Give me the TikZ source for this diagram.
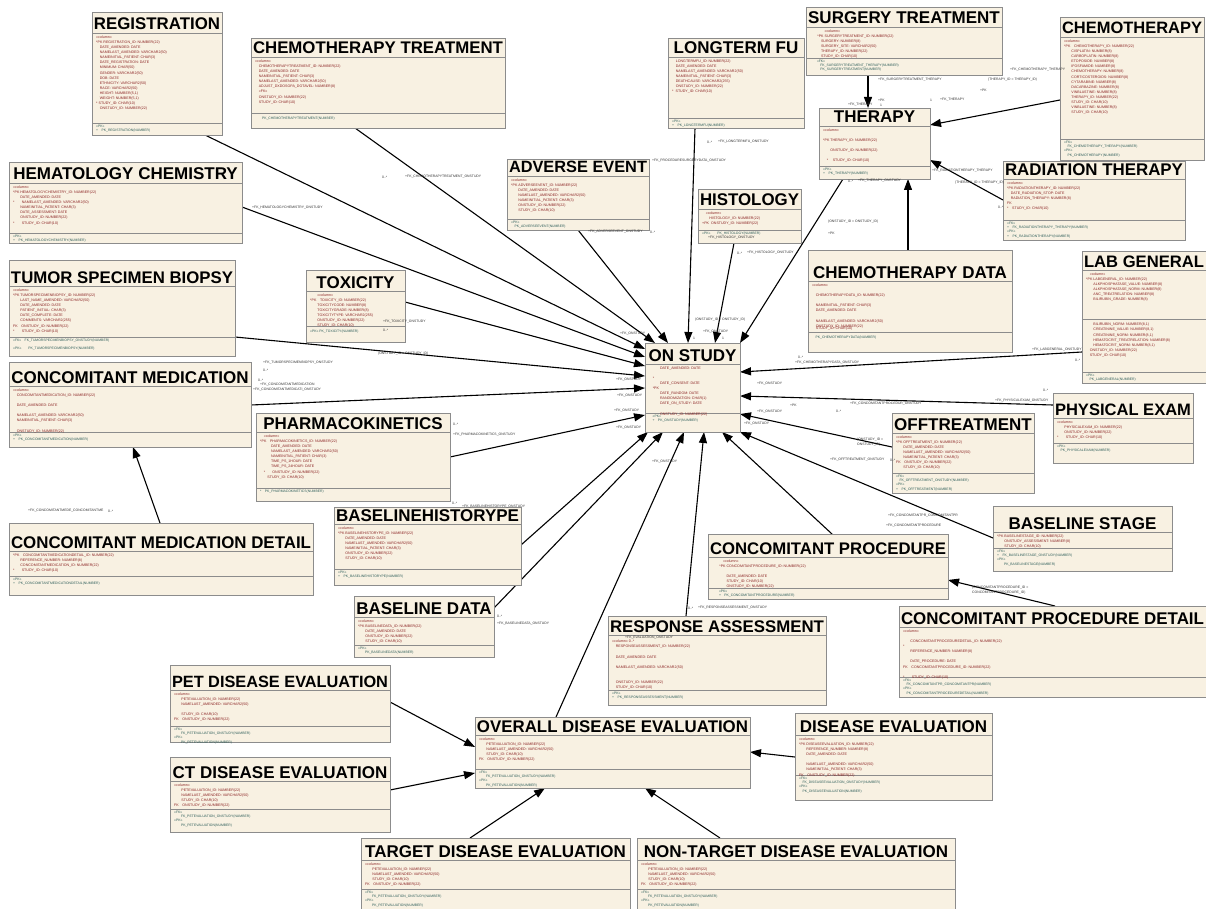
\documentclass[tikz,border=0pt]{standalone}
\usepackage{fontspec}
\setmainfont{Liberation Sans}
\usepackage{graphicx}
\usetikzlibrary{arrows.meta,calc}
\definecolor{boxfill}{HTML}{F8F1E2}
\definecolor{boxline}{HTML}{8C8C8C}
\definecolor{coltext}{HTML}{8B2323}
\definecolor{keytext}{HTML}{2E5E5A}
\definecolor{lbltext}{HTML}{333333}
\pgfdeclarelayer{background}
\pgfsetlayers{background,main}
\tikzset{
  ebox/.style={draw=boxline, fill=boxfill, line width=0.9pt, inner sep=0pt, outer sep=0pt},
  esep/.style={draw=boxline, line width=0.7pt},
  etitle/.style={inner sep=0pt, font=\fontsize{17}{17}\selectfont\bfseries, text=black},
  ecol/.style={inner sep=0pt, align=left, text=coltext, font=\fontsize{3.6}{5.1}\selectfont},
  ekey/.style={inner sep=0pt, align=left, text=keytext, font=\fontsize{3.4}{4.4}\selectfont},
  lbl/.style={inner sep=0pt, anchor=west, text=lbltext, font=\fontsize{3.4}{4}\selectfont},
  conn/.style={draw=black, line width=1.1pt, -{Triangle[length=11pt,width=8pt]}},
}
\newsavebox\ttlbox
\newcommand{\fittitle}[2]{\pgfmathsetlengthmacro\tmpw{(#1)*1pt}\sbox\ttlbox{#2}\ifdim\wd\ttlbox>\tmpw\resizebox{\tmpw}{!}{\usebox\ttlbox}\else\usebox\ttlbox\fi}
% name, x1, y1, x2, y2, title-separator y, lower separator y, title
\newcommand{\entity}[8]{%
  \node[ebox, minimum width={(#4-#2)*1pt}, minimum height={(#5-#3)*1pt}, anchor=north west] (#1) at (#2,#3) {};
  \coordinate (#1-s) at (#2,#6);
  \coordinate (#1-l) at (#2,#7);
  \draw[esep] (#2,#6) -- (#4,#6);
  \draw[esep] (#2,#7) -- (#4,#7);
  \node[etitle, anchor=base] (#1-t) at ({(#2+#4)/2},{#6-3}) {\fittitle{#4-#2-4}{#8}};
}
\newcommand{\cols}[2]{\node[ecol, anchor=north west] (#1-c) at ([shift={(4,2.5)}]#1-s) {#2};}
\newcommand{\keys}[2]{\node[ekey, anchor=north west] (#1-k) at ([shift={(4,1.5)}]#1-l) {#2};}
\begin{document}
\catcode`\_=12
\begin{tikzpicture}[x=1pt,y=-1pt]
\useasboundingbox (0,0) rectangle (1206,909);

% ---------------- entities ----------------
\entity{reg}{92}{12}{222}{135}{33}{123}{REGISTRATION}
\cols{reg}{«column»\\*PK REGISTRATION_ID: NUMBER(22)\\\quad DATE_AMENDED: DATE\\\quad NAMELAST_AMENDED: VARCHAR2(50)\\\quad NAMEINITIAL_PATIENT: CHAR(3)\\\quad DATE_REGISTRATION: DATE\\\quad MINIMUM: CHAR(50)\\\quad GENDER: VARCHAR2(50)\\\quad DOB: DATE\\\quad ETHNICITY: VARCHAR2(50)\\\quad RACE: VARCHAR2(50)\\\quad HEIGHT: NUMBER(5,1)\\\quad WEIGHT: NUMBER(5,1)\\* STUDY_ID: CHAR(10)\\\quad ONSTUDY_ID: NUMBER(22)}
\keys{reg}{«PK»\\+\quad PK_REGISTRATION(NUMBER)}

\entity{ctx}{251}{38}{505}{128}{57}{113}{CHEMOTHERAPY TREATMENT}
\cols{ctx}{«column»\\\quad CHEMOTHERAPYTREATMENT_ID: NUMBER(22)\\\quad DATE_AMENDED: DATE\\\quad NAMEINITIAL_PATIENT: CHAR(3)\\\quad NAMELAST_AMENDED: VARCHAR2(50)\\\quad ADJUST_DXDOSOPA_DOTAVEL: NUMBER(8)\\\quad «FK»\\\quad ONSTUDY_ID: NUMBER(22)\\\quad STUDY_ID: CHAR(10)}
\keys{ctx}{\\\qquad PK_CHEMOTHERAPYTREATMENT(NUMBER)}

\entity{ltfu}{668}{38}{804}{128}{57}{118}{LONGTERM FU}
\cols{ltfu}{\quad LONGTERMFU_ID: NUMBER(22)\\\quad DATE_AMENDED: DATE\\\quad NAMELAST_AMENDED: VARCHAR2(50)\\\quad NAMEINITIAL_PATIENT: CHAR(3)\\\quad DEATHCAUSE: VARCHAR2(255)\\\quad ONSTUDY_ID: NUMBER(22)\\* \ STUDY_ID: CHAR(10)}
\keys{ltfu}{«PK»\\+\quad PK_LONGTERMFU(NUMBER)}

\entity{surg}{806}{7}{1002}{75}{27}{58}{SURGERY TREATMENT}
\cols{surg}{\qquad\qquad «column»\\\qquad *PK SURGERYTREATMENT_ID: NUMBER(22)\\\qquad\quad SURGERY: NUMBER(8)\\\qquad\quad SURGERY_SITE: VARCHAR2(50)\\\qquad\quad THERAPY_ID: NUMBER(22)\\\qquad\quad STUDY_ID: CHAR(10)}
\keys{surg}{\qquad «FK»\\\qquad\quad FK_SURGERYTREATMENT_THERAPY(NUMBER)\\\qquad\quad PK_SURGERYTREATMENT(NUMBER)}

\entity{chemo}{1060}{17}{1204}{160}{37}{139}{CHEMOTHERAPY}
\cols{chemo}{«column»\\*PK\quad CHEMOTHERAPY_ID: NUMBER(22)\\\qquad CISPLATIN: NUMBER(8)\\\qquad CARBOPLATIN: NUMBER(8)\\\qquad ETOPOSIDE: NUMBER(8)\\\qquad IFOSFAMIDE: NUMBER(8)\\\qquad CHEMOTHERAPY: NUMBER(8)\\\qquad CORTICOSTEROIDS: NUMBER(8)\\\qquad CYTARABINE: NUMBER(8)\\\qquad DACARBAZINE: NUMBER(8)\\\qquad VINBLASTINE: NUMBER(8)\\\qquad THERAPY_ID: NUMBER(22)\\\qquad STUDY_ID: CHAR(10)\\\qquad VINBLASTINE: NUMBER(8)\\\qquad STUDY_ID: CHAR(10)}
\keys{chemo}{«FK»\\\quad FK_CHEMOTHERAPY_THERAPY(NUMBER)\\«PK»\\\quad PK_CHEMOTHERAPY(NUMBER)}

\entity{ther}{819}{108}{930}{179}{126}{166}{THERAPY}
\cols{ther}{«column»\\\\*PK\ THERAPY_ID: NUMBER(22)\\\\\qquad ONSTUDY_ID: NUMBER(22)\\\\\quad * \quad STUDY_ID: CHAR(10)}
\keys{ther}{«PK»\\+\quad PK_THERAPY(NUMBER)}

\entity{rad}{1003}{161}{1185}{240}{179}{220}{RADIATION THERAPY}
\cols{rad}{«column»\\*PK RADIATIONTHERAPY_ID: NUMBER(22)\\\quad DATE_RADIATION_STOP: DATE\\\quad RADIATION_THERAPY: NUMBER(8)\\FK\\*\quad STUDY_ID: CHAR(10)}
\keys{rad}{«FK»\\+\quad FK_RADIATIONTHERAPY_THERAPY(NUMBER)\\«PK»\\+\quad PK_RADIATIONTHERAPY(NUMBER)}

\entity{hem}{9}{162}{242}{243}{183}{233}{HEMATOLOGY CHEMISTRY}
\cols{hem}{«column»\\*PK HEMATOLOGYCHEMISTRY_ID: NUMBER(22)\\\qquad DATE_AMENDED: DATE\\*\qquad NAMELAST_AMENDED: VARCHAR2(50)\\\qquad NAMEINITIAL_PATIENT: CHAR(3)\\\qquad DATE_ASSESSMENT: DATE\\\qquad ONSTUDY_ID: NUMBER(22)\\*\qquad STUDY_ID: CHAR(10)}
\keys{hem}{«PK»\\+\quad PK_HEMATOLOGYCHEMISTRY(NUMBER)}

\entity{adv}{507}{159}{649}{230}{176}{219}{ADVERSE EVENT}
\cols{adv}{«column»\\*PK ADVERSEEVENT_ID: NUMBER(22)\\\qquad DATE_AMENDED: DATE\\\qquad NAMELAST_AMENDED: VARCHAR2(50)\\\qquad NAMEINITIAL_PATIENT: CHAR(3)\\\qquad ONSTUDY_ID: NUMBER(22)\\\qquad STUDY_ID: CHAR(10)}
\keys{adv}{«PK»\\\quad PK_ADVERSEEVENT(NUMBER)}

\entity{hist}{698}{189}{801}{243}{209}{230}{HISTOLOGY}
\cols{hist}{\quad «column»\\\qquad HISTOLOGY_ID: NUMBER(22)\\+PK\ \ ONSTUDY_ID: NUMBER(22)}
\keys{hist}{«PK»\qquad PK_HISTOLOGY(NUMBER)}

\entity{cdata}{808}{250}{1012}{352}{281}{332}{CHEMOTHERAPY DATA}
\cols{cdata}{«column»\\\\\quad CHEMOTHERAPYDATA_ID: NUMBER(22)\\\\\quad NAMEINITIAL_PATIENT: CHAR(3)\\\quad DATE_AMENDED: DATE\\\\\quad NAMELAST_AMENDED: VARCHAR2(50)\\\quad ONSTUDY_ID: NUMBER(22)}
\node[ecol, anchor=north west] (cdata-c2) at (812,326.5) {\quad STUDY_ID: CHAR(10)};
\keys{cdata}{\\\quad PK_CHEMOTHERAPYDATA(NUMBER)}

\entity{lab}{1082}{251}{1206}{383}{270}{372}{LAB GENERAL}
\draw[esep] (lab.west |- 0,319) -- (lab.east |- 0,319);
\cols{lab}{\quad «column»\\*PK LABGENERAL_ID: NUMBER(22)\\\qquad ALKPHOSPHATASE_VALUE: NUMBER(8)\\\qquad ALKPHOSPHATASE_NORM: NUMBER(8)\\\qquad ANC_TREATRELATION: NUMBER(8)\\\qquad BILIRUBIN_GRADE: NUMBER(8)}
\node[ecol, anchor=north west] (lab-c2) at (1086,323) {\qquad BILIRUBIN_NORM: NUMBER(8,1)\\\qquad CREATININE_VALUE: NUMBER(8,1)\\\qquad CREATININE_NORM: NUMBER(8,1)\\\qquad HEMATOCRIT_TREATRELATION: NUMBER(8)\\\qquad HEMATOCRIT_NORM: NUMBER(8,1)\\\quad ONSTUDY_ID: NUMBER(22)\\\quad STUDY_ID: CHAR(10)};
\keys{lab}{«PK»\\\quad PK_LABGENERAL(NUMBER)}

\entity{tsb}{9}{260}{235}{356}{286}{337}{TUMOR SPECIMEN BIOPSY}
\cols{tsb}{«column»\\*PK TUMORSPECIMENBIOPSY_ID: NUMBER(22)\\\qquad LAST_NAME_AMENDED: VARCHAR2(50)\\\qquad DATE_AMENDED: DATE\\\qquad PATIENT_INITIAL: CHAR(3)\\\qquad DATE_COMPLETE: DATE\\\qquad COMMENTS: VARCHAR2(255)\\FK\quad ONSTUDY_ID: NUMBER(22)\\*\qquad STUDY_ID: CHAR(10)}
\keys{tsb}{«FK»\quad FK_TUMORSPECIMENBIOPSY_ONSTUDY(NUMBER)\\\\«PK»\qquad PK_TUMORSPECIMENBIOPSY(NUMBER)}

\entity{tox}{306}{270}{405}{342}{291}{326}{TOXICITY}
\cols{tox}{\qquad «column»\\*PK\quad TOXICITY_ID: NUMBER(22)\\\qquad TOXICITYCODE: NUMBER(8)\\\qquad TOXICITYGRADE: NUMBER(8)\\\qquad TOXICITYTYPE: VARCHAR2(255)\\\qquad ONSTUDY_ID: NUMBER(22)\\\qquad STUDY_ID: CHAR(10)}
\keys{tox}{\\«PK» PK_TOXICITY(NUMBER)}

\entity{os}{645}{343}{740}{432}{364}{413}{ON STUDY}
\cols{os}{\qquad\quad DATE_AMENDED: DATE\\\\\quad *\\\qquad\quad DATE_CONSENT: DATE\\\quad *PK\\\qquad\quad DATE_RANDOM: DATE\\\qquad\quad RANDOMIZATION: CHAR(1)\\\qquad\quad DATE_ON_STUDY: DATE\\\\\qquad\quad ONSTUDY_ID: NUMBER(22)}
\keys{os}{\quad «PK»\\\quad +\quad PK_ONSTUDY(NUMBER)}

\entity{conmed}{9}{362}{251}{447}{386}{432}{CONCOMITANT MEDICATION}
\cols{conmed}{«column»\\\quad CONCOMITANTMEDICATION_ID: NUMBER(22)\\\\\quad DATE_AMENDED: DATE\\\\\quad NAMELAST_AMENDED: VARCHAR2(50)\\\quad NAMEINITIAL_PATIENT: CHAR(3)\\\\\quad ONSTUDY_ID: NUMBER(22)}
\keys{conmed}{«PK»\\+\quad PK_CONCOMITANTMEDICATION(NUMBER)}

\entity{pk}{256}{413}{450}{501}{432}{488}{PHARMACOKINETICS}
\cols{pk}{\quad «column»\\*PK\quad PHARMACOKINETICS_ID: NUMBER(22)\\\qquad\quad DATE_AMENDED: DATE\\\qquad\quad NAMELAST_AMENDED: VARCHAR2(50)\\\qquad\quad NAMEINITIAL_PATIENT: CHAR(3)\\\qquad\quad TIME_PS_1HOUR: DATE\\\qquad\quad TIME_PS_24HOUR: DATE\\\quad *\qquad ONSTUDY_ID: NUMBER(22)\\\qquad STUDY_ID: CHAR(10)}
\keys{pk}{*\quad PK_PHARMACOKINETICS(NUMBER)}

\entity{off}{892}{413}{1034}{493}{433}{473}{OFFTREATMENT}
\cols{off}{«column»\\*PK OFFTREATMENT_ID: NUMBER(22)\\\qquad DATE_AMENDED: DATE\\\qquad NAMELAST_AMENDED: VARCHAR2(50)\\\qquad NAMEINITIAL_PATIENT: CHAR(3)\\FK\quad ONSTUDY_ID: NUMBER(22)\\\qquad STUDY_ID: CHAR(10)}
\keys{off}{«FK»\\\quad FK_OFFTREATMENT_ONSTUDY(NUMBER)\\«PK»\\+\quad PK_OFFTREATMENT(NUMBER)}

\entity{phys}{1053}{393}{1193}{463}{418}{443}{PHYSICAL EXAM}
\cols{phys}{«column»\\\qquad PHYSICALEXAM_ID: NUMBER(22)\\\qquad ONSTUDY_ID: NUMBER(22)\\*\qquad STUDY_ID: CHAR(10)}
\keys{phys}{«PK»\\\quad PK_PHYSICALEXAM(NUMBER)}

\entity{cmd}{9}{523}{313}{595}{551}{576}{CONCOMITANT MEDICATION DETAIL}
\cols{cmd}{*PK\quad CONCOMITANTMEDICATIONDETAIL_ID: NUMBER(22)\\\qquad REFERENCE_NUMBER: NUMBER(8)\\\qquad CONCOMITANTMEDICATION_ID: NUMBER(22)\\*\qquad STUDY_ID: CHAR(10)}
\keys{cmd}{«PK»\\+\quad PK_CONCOMITANTMEDICATIONDETAIL(NUMBER)}

\entity{bhist}{334}{507}{521}{585}{524}{569}{BASELINEHISTORYPE}
\cols{bhist}{«column»\\*PK BASELINEHISTORYPE_ID: NUMBER(22)\\\qquad DATE_AMENDED: DATE\\\qquad NAMELAST_AMENDED: VARCHAR2(50)\\\qquad NAMEINITIAL_PATIENT: CHAR(3)\\\qquad ONSTUDY_ID: NUMBER(22)\\\qquad STUDY_ID: CHAR(10)}
\keys{bhist}{«PK»\\+\quad PK_BASELINEHISTORYPE(NUMBER)}

\entity{bstage}{993}{506}{1172}{571}{532}{548}{BASELINE STAGE}
\cols{bstage}{*PK BASELINESTAGE_ID: NUMBER(22)\\\qquad ONSTUDY_ASSESSMENT: NUMBER(8)\\\qquad STUDY_ID: CHAR(10)}
\keys{bstage}{«FK»\\+\quad FK_BASELINESTAGE_ONSTUDY(NUMBER)\\«PK»\\\qquad PK_BASELINESTAGE(NUMBER)}

\entity{cproc}{708}{534}{948}{599}{557}{588}{CONCOMITANT PROCEDURE}
\cols{cproc}{\qquad\quad «column»\\\qquad *PK\ CONCOMITANTPROCEDURE_ID: NUMBER(22)\\\\\qquad\qquad DATE_AMENDED: DATE\\\qquad\qquad STUDY_ID: CHAR(10)\\\qquad\qquad ONSTUDY_ID: NUMBER(22)}
\keys{cproc}{\qquad «PK»\\\qquad +\quad PK_CONCOMITANTPROCEDURE(NUMBER)}

\entity{cpd}{899}{606}{1206}{697}{627}{677}{CONCOMITANT PROCEDURE DETAIL}
\cols{cpd}{«column»\\\\\qquad CONCOMITANTPROCEDUREDETAIL_ID: NUMBER(22)\\*\\\qquad REFERENCE_NUMBER: NUMBER(8)\\\\\qquad DATE_PROCEDURE: DATE\\FK\quad CONCOMITANTPROCEDURE_ID: NUMBER(22)\\\\*\qquad STUDY_ID: CHAR(10)}
\keys{cpd}{«FK»\\\quad FK_CONCOMITANTPR_CONCOMITANTPR(NUMBER)\\«PK»\\\quad PK_CONCOMITANTPROCEDUREDETAIL(NUMBER)}

\entity{bdata}{354}{596}{494}{657}{617}{645}{BASELINE DATA}
\cols{bdata}{«column»\\*PK BASELINEDATA_ID: NUMBER(22)\\\qquad DATE_AMENDED: DATE\\\qquad ONSTUDY_ID: NUMBER(22)\\\qquad STUDY_ID: CHAR(10)}
\keys{bdata}{«PK»\\\qquad PK_BASELINEDATA(NUMBER)}

\entity{resp}{608}{616}{826}{705}{635}{690}{RESPONSE ASSESSMENT}
\cols{resp}{\\«column» 0..*\\\quad RESPONSEASSESSMENT_ID: NUMBER(22)\\\\\quad DATE_AMENDED: DATE\\\\\quad NAMELAST_AMENDED: VARCHAR2(50)\\\\\\\quad ONSTUDY_ID: NUMBER(22)\\\quad STUDY_ID: CHAR(10)}
\keys{resp}{«PK»\\+\quad PK_RESPONSEASSESSMENT(NUMBER)}

\entity{pet}{170}{665}{390}{742}{690}{726}{PET DISEASE EVALUATION}
\cols{pet}{«column»\\\qquad PETEVALUATION_ID: NUMBER(22)\\\qquad NAMELAST_AMENDED: VARCHAR2(50)\\\\\qquad STUDY_ID: CHAR(10)\\FK\quad ONSTUDY_ID: NUMBER(22)}
\keys{pet}{«FK»\\\qquad FK_PETEVALUATION_ONSTUDY(NUMBER)\\«PK»\\\qquad PK_PETEVALUATION(NUMBER)}

\entity{ovr}{475}{717}{750}{788}{735}{769}{OVERALL DISEASE EVALUATION}
\cols{ovr}{«column»\\\qquad PETEVALUATION_ID: NUMBER(22)\\\qquad NAMELAST_AMENDED: VARCHAR2(50)\\\qquad STUDY_ID: CHAR(10)\\FK\quad ONSTUDY_ID: NUMBER(22)}
\keys{ovr}{«FK»\\\qquad FK_PETEVALUATION_ONSTUDY(NUMBER)\\«PK»\\\qquad PK_PETEVALUATION(NUMBER)}

\entity{dis}{795}{713}{992}{800}{735}{775}{DISEASE EVALUATION}
\cols{dis}{«column»\\*PK DISEASEEVALUATION_ID: NUMBER(22)\\\qquad REFERENCE_NUMBER: NUMBER(8)\\\qquad DATE_AMENDED: DATE\\\\\qquad NAMELAST_AMENDED: VARCHAR2(50)\\\qquad NAMEINITIAL_PATIENT: CHAR(3)\\FK\quad ONSTUDY_ID: NUMBER(22)}
\keys{dis}{«FK»\\\quad FK_DISEASEEVALUATION_ONSTUDY(NUMBER)\\«PK»\\\quad PK_DISEASEEVALUATION(NUMBER)}

\entity{ct}{170}{757}{390}{832}{781}{809}{CT DISEASE EVALUATION}
\cols{ct}{«column»\\\qquad PETEVALUATION_ID: NUMBER(22)\\\qquad NAMELAST_AMENDED: VARCHAR2(50)\\\qquad STUDY_ID: CHAR(10)\\FK\quad ONSTUDY_ID: NUMBER(22)}
\keys{ct}{«FK»\\\qquad FK_PETEVALUATION_ONSTUDY(NUMBER)\\«PK»\\\qquad PK_PETEVALUATION(NUMBER)}

\entity{tgt}{361}{838}{630}{915}{860}{889}{TARGET DISEASE EVALUATION}
\cols{tgt}{«column»\\\qquad PETEVALUATION_ID: NUMBER(22)\\\qquad NAMELAST_AMENDED: VARCHAR2(50)\\\qquad STUDY_ID: CHAR(10)\\FK\quad ONSTUDY_ID: NUMBER(22)}
\keys{tgt}{«FK»\\\qquad FK_PETEVALUATION_ONSTUDY(NUMBER)\\«PK»\\\qquad PK_PETEVALUATION(NUMBER)}

\entity{ntgt}{637}{838}{955}{915}{860}{889}{NON-TARGET DISEASE EVALUATION}
\cols{ntgt}{«column»\\\qquad PETEVALUATION_ID: NUMBER(22)\\\qquad NAMELAST_AMENDED: VARCHAR2(50)\\\qquad STUDY_ID: CHAR(10)\\FK\quad ONSTUDY_ID: NUMBER(22)}
\keys{ntgt}{«FK»\\\qquad FK_PETEVALUATION_ONSTUDY(NUMBER)\\«PK»\\\qquad PK_PETEVALUATION(NUMBER)}

% ---------------- connectors ----------------
\begin{pgfonlayer}{background}
% into ON STUDY
\draw[conn] ([shift={(113,123)}]reg.north west) -- ([shift={(0,6)}]os.north west);
\draw[conn] ([shift={(104,90)}]ctx.north west) -- ([shift={(10,0)}]os.north west);
\draw[conn] ([shift={(233,45)}]hem.north west) -- ([shift={(0,14)}]os.north west);
\draw[conn] ([shift={(99,32)}]tox.north west) -- ([shift={(0,23)}]os.north west);
\draw[conn] ([shift={(226,77)}]tsb.north west) -- ([shift={(0,33)}]os.north west);
\draw[conn] ([shift={(242,43)}]conmed.north west) -- ([shift={(0,45)}]os.north west);
\draw[conn] ([shift={(194,44)}]pk.north west) -- ([shift={(0,72)}]os.north west);
\draw[conn] ([shift={(71,71)}]adv.north west) -- ([shift={(23,0)}]os.north west);
\draw[conn] ([shift={(27,90)}]ltfu.north west) -- ([shift={(43,0)}]os.north west);
\draw[conn] ([shift={(36,54)}]hist.north west) -- ([shift={(70,0)}]os.north west);
\draw[conn] ([shift={(24,71)}]ther.north west) -- ([shift={(95,0)}]os.north west);
\draw[conn] ([shift={(0,101)}]lab.north west) -- ([shift={(95,29)}]os.north west);
\draw[conn] ([shift={(0,12)}]phys.north west) -- ([shift={(95,53)}]os.north west);
\draw[conn] ([shift={(0,34)}]off.north west) -- ([shift={(95,71)}]os.north west);
\draw[conn] ([shift={(0,32)}]bstage.north west) -- ([shift={(95,89)}]os.north west);
\draw[conn] ([shift={(124,0)}]cproc.north west) -- ([shift={(77,89)}]os.north west);
\draw[conn] ([shift={(78,0)}]resp.north west) -- ([shift={(59,89)}]os.north west);
\draw[conn] ([shift={(81,0)}]ovr.north west) -- ([shift={(39,89)}]os.north west);
\draw[conn] ([shift={(140,12)}]bdata.north west) -- ([shift={(18,89)}]os.north west);
\draw[conn] ([shift={(187,38)}]bhist.north west) -- ([shift={(3,89)}]os.north west);
% into THERAPY
\draw[conn] ([shift={(62,68)}]surg.north west) -- ([shift={(49,0)}]ther.north west);
\draw[conn] ([shift={(0,83)}]chemo.north west) -- ([shift={(111,17)}]ther.north west);
\draw[conn] ([shift={(0,39)}]rad.north west) -- ([shift={(111,52)}]ther.north west);
\draw[conn] ([shift={(100,0)}]cdata.north west) -- ([shift={(89,71)}]ther.north west);
% others
\draw[conn] ([shift={(151,0)}]cmd.north west) -- ([shift={(124,85)}]conmed.north west);
\draw[conn] ([shift={(156,0)}]cpd.north west) -- ([shift={(240,46)}]cproc.north west);
\draw[conn] ([shift={(220,37)}]pet.north west) -- ([shift={(0,30)}]ovr.north west);
\draw[conn] ([shift={(220,33)}]ct.north west) -- ([shift={(0,56)}]ovr.north west);
\draw[conn] ([shift={(109,0)}]tgt.north west) -- ([shift={(70,71)}]ovr.north west);
\draw[conn] ([shift={(83,0)}]ntgt.north west) -- ([shift={(170,71)}]ovr.north west);
\draw[conn] ([shift={(0,44)}]dis.north west) -- ([shift={(275,35)}]ovr.north west);
\end{pgfonlayer}

% ---------------- connector labels ----------------
\node[lbl] (l1) at (382,177) {0..*};
\node[lbl] (l2) at (405,177) {+FK_CHEMOTHERAPYTREATMENT_ONSTUDY};
\node[lbl] (l3) at (252,208) {+FK_HEMATOLOGYCHEMISTRY_ONSTUDY};
\node[lbl] (l4) at (588,232) {+FK_ADVERSEEVENT_ONSTUDY};
\node[lbl] (l5) at (650,232) {0..*};
\node[lbl] (l6) at (707,142) {0..*};
\node[lbl] (l7) at (718,142) {+FK_LONGTERMFU_ONSTUDY};
\node[lbl] (l8) at (652,161) {+FK_PROCEDURESURGERYDATA_ONSTUDY};
\node[lbl] (l9) at (878,80) {+FK_SURGERYTREATMENT_THERAPY};
\node[lbl] (l10) at (988,80) {(THERAPY_ID = THERAPY_ID)};
\node[lbl] (l11) at (1010,70) {+FK_CHEMOTHERAPY_THERAPY};
\node[lbl] (l12) at (980,90) {+PK};
\node[lbl] (l13) at (878,100) {+PK};
\node[lbl] (l14) at (930,100) {1};
\node[lbl] (l15) at (940,100) {+FK_THERAPY};
\node[lbl] (l16) at (848,105) {+FK_THERAPY};
\node[lbl] (l17) at (880,105) {1};
\node[lbl] (l18) at (932,171) {+FK_RADIATIONTHERAPY_THERAPY};
\node[lbl] (l19) at (955,183) {(THERAPY_ID = THERAPY_ID)};
\node[lbl] (l20) at (998,207) {0..*};
\node[lbl] (l21) at (848,181) {0..*};
\node[lbl] (l22) at (858,181) {+FK_THERAPY_ONSTUDY};
\node[lbl] (l23) at (828,222) {(ONSTUDY_ID = ONSTUDY_ID)};
\node[lbl] (l24) at (828,233) {+PK};
\node[lbl] (l25) at (708,238) {+FK_HISTOLOGY_ONSTUDY};
\node[lbl] (l26) at (737,253) {0..*};
\node[lbl] (l27) at (747,253) {+FK_HISTOLOGY_ONSTUDY};
\node[lbl] (l28) at (695,320) {(ONSTUDY_ID = ONSTUDY_ID)};
\node[lbl] (l29) at (703,332) {+FK_ONSTUDY};
\node[lbl] (l30) at (383,322) {+FK_TOXICITY_ONSTUDY};
\node[lbl] (l31) at (383,330) {0..*};
\node[lbl] (l32) at (378,354) {(ONSTUDY_ID = ONSTUDY_ID)};
\node[lbl] (l33) at (263,363) {+FK_TUMORSPECIMENBIOPSY_ONSTUDY};
\node[lbl] (l34) at (263,370) {0..*};
\node[lbl] (l35) at (258,380) {0..*};
\node[lbl] (l36) at (260,385) {+FK_CONCOMITANTMEDICATION};
\node[lbl] (l37) at (253,390) {+FK_CONCOMITANTMEDICATI_ONSTUDY};
\node[lbl] (l38) at (453,424) {0..*};
\node[lbl] (l39) at (453,435) {+FK_PHARMACOKINETICS_ONSTUDY};
\node[lbl] (l40) at (452,503) {0..*};
\node[lbl] (l41) at (462,507) {+FK_BASELINEHISTORYPE_ONSTUDY};
\node[lbl] (l42) at (497,616) {0..*};
\node[lbl] (l43) at (497,624) {+FK_BASELINEDATA_ONSTUDY};
\node[lbl] (l44) at (688,608) {0..*};
\node[lbl] (l45) at (698,608) {+FK_RESPONSEASSESSMENT_ONSTUDY};
\node[lbl] (l46) at (625,638) {+FK_EVALUATION_ONSTUDY};
\node[lbl] (l47) at (888,516) {+FK_CONCOMITANTPR_CONCOMITANTPR};
\node[lbl] (l48) at (886,526) {+FK_CONCOMITANTPROCEDURE};
\node[lbl] (l49) at (972,588) {(CONCOMITANTPROCEDURE_ID =};
\node[lbl] (l50) at (972,593) {CONCOMITANTPROCEDURE_ID)};
\node[lbl] (l51) at (1032,350) {+FK_LABGENERAL_ONSTUDY};
\node[lbl] (l52) at (1075,360) {0..*};
\node[lbl] (l53) at (798,357) {0..*};
\node[lbl] (l54) at (795,363) {+FK_CHEMOTHERAPYDATA_ONSTUDY};
\node[lbl] (l55) at (1043,390) {0..*};
\node[lbl] (l56) at (995,401) {+FK_PHYSICALEXAM_ONSTUDY};
\node[lbl] (l57) at (790,405) {+PK};
\node[lbl] (l58) at (850,404) {+FK_CONCOMITANTPROCEDUR_ONSTUDY};
\node[lbl] (l59) at (836,411) {0..*};
\node[lbl] (l60) at (857,440) {(ONSTUDY_ID =};
\node[lbl] (l61) at (857,445) {ONSTUDY_ID)};
\node[lbl] (l62) at (830,460) {+FK_OFFTREATMENT_ONSTUDY};
\node[lbl] (l63) at (890,460) {0..*};
\node[lbl] (l64) at (28,511) {+FK_CONCOMITANTMEDE_CONCOMITANTME};
\node[lbl] (l65) at (108,511) {0..*};
\node[lbl] (l66) at (616,380) {+FK_ONSTUDY};
\node[lbl] (l67) at (617,396) {+FK_ONSTUDY};
\node[lbl] (l68) at (614,411) {+FK_ONSTUDY};
\node[lbl] (l69) at (616,428) {+FK_ONSTUDY};
\node[lbl] (l70) at (757,384) {+FK_ONSTUDY};
\node[lbl] (l71) at (757,412) {+FK_ONSTUDY};
\node[lbl] (l72) at (744,424) {+FK_ONSTUDY};
\node[lbl] (l73) at (652,462) {+FK_ONSTUDY};
\node[lbl] (l74) at (620,334) {+FK_ONSTUDY};
\node[lbl] (l75) at (693,338) {1};
\node[lbl] (l76) at (722,338) {1};
\end{tikzpicture}
\end{document}
